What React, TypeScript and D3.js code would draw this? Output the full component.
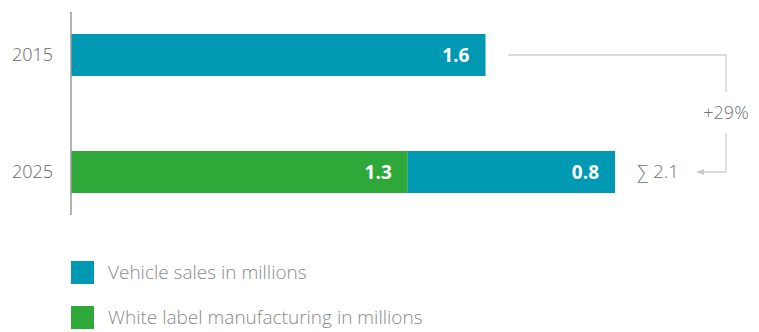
import React from "react";
import * as d3 from "d3";

const years = ["2015", "2025"];
const vehicleSales = [1.6, 0.8];
const whiteLabel = [0, 1.3];
const growthLabel = "+29%";
const totalLabel = "∑ 2.1";
const legendLabels = ["Vehicle sales in millions", "White label manufacturing in millions"];

const TEAL = "#0099b4";
const GREEN = "#2fa83a";
const W = 759;
const H = 332;
const FONT = "'Open Sans', 'Noto Sans', sans-serif";

export default function App() {
  const x = d3.scaleLinear().domain([0, 2.1]).range([71, 615]);
  const y = d3.scaleBand().domain(years).range([10.6, 216.4]).paddingInner(0.641).paddingOuter(0.2);
  const bh = y.bandwidth();

  const rows = years.map((yr, i) => {
    const g = whiteLabel[i];
    const v = vehicleSales[i];
    return { yr, g, v, total: g + v, y0: y(yr)! };
  });

  const r0 = rows[0];
  const r1 = rows[1];
  const cy0 = r0.y0 + bh / 2;
  const cy1 = r1.y0 + bh / 2;
  const bx = 726;

  return (
    <svg width={W} height={H} style={{ position: "absolute", left: 0, top: 0 }} fontFamily={FONT}>
      <defs>
        <marker id="arr" viewBox="0 0 10 10" refX="9" refY="5" markerWidth="6" markerHeight="6" orient="auto">
          <path d="M10,5 L0,1 L0,9 Z" fill="#c8c8c8" />
        </marker>
      </defs>
      {rows.map((r) => (
        <g key={r.yr}>
          {r.g > 0 && (
            <rect x={x(0)} y={r.y0} width={x(r.g) - x(0)} height={bh} fill={GREEN} />
          )}
          <rect x={x(r.g)} y={r.y0} width={x(r.g + r.v) - x(r.g)} height={bh} fill={TEAL} />
          {r.g > 0 && (
            <text x={x(r.g) - 16} y={r.y0 + bh / 2} dy="0.35em" textAnchor="end" fill="#fff" fontWeight={700} fontSize={19}>
              {d3.format(".1f")(r.g)}
            </text>
          )}
          <text x={x(r.g + r.v) - 16} y={r.y0 + bh / 2} dy="0.35em" textAnchor="end" fill="#fff" fontWeight={700} fontSize={19}>
            {d3.format(".1f")(r.v)}
          </text>
          <text x={53} y={r.y0 + bh / 2} dy="0.35em" textAnchor="end" fill="#666" fontSize={18} fontWeight={300}>
            {r.yr}
          </text>
        </g>
      ))}
      <line x1={71} x2={71} y1={12} y2={215} stroke="#9a9a9a" strokeWidth={1.5} />
      {/* connector */}
      <path d={`M${x(r0.total) + 23},${cy0} H${bx} V${92}`} fill="none" stroke="#cfcfcf" strokeWidth={1.3} />
      <path d={`M${bx},${133} V${cy1} H${697}`} fill="none" stroke="#cfcfcf" strokeWidth={1.3} markerEnd="url(#arr)" />
      <text x={bx} y={113} dy="0.35em" textAnchor="middle" fill="#707070" fontSize={18} fontWeight={300}>
        {growthLabel}
      </text>
      <text x={x(r1.total) + 22} y={cy1} dy="0.35em" textAnchor="start" fill="#707070" fontSize={18.5} fontWeight={300}>
        {totalLabel}
      </text>
      {/* legend */}
      {legendLabels.map((l, i) => (
        <g key={l} transform={`translate(71,${261 + i * 45})`}>
          <rect width={23} height={23} fill={i === 0 ? TEAL : GREEN} />
          <text x={37} y={11.5} dy="0.35em" fill="#8a8a8a" fontSize={19} fontWeight={300}>
            {l}
          </text>
        </g>
      ))}
    </svg>
  );
}
